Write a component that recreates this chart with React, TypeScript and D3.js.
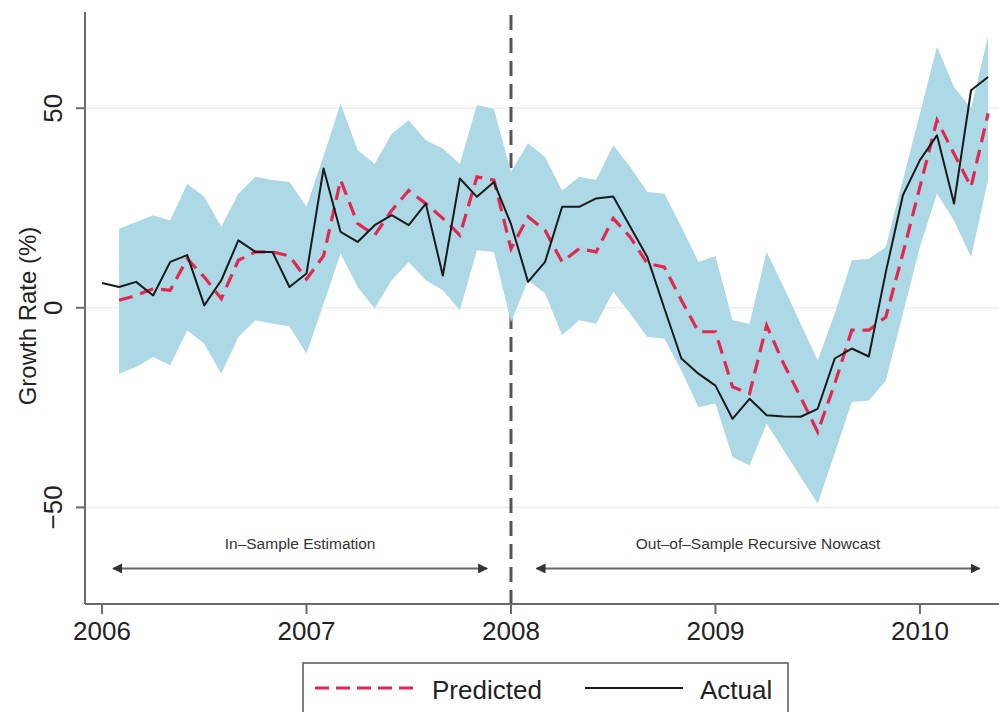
import React from "react";
import * as d3 from "d3";

// Monthly observations; index 0 = Jan 2006
const yearTicks = [2006, 2007, 2008, 2009, 2010];
const yTicks = [-50, 0, 50];
const yTickLabels = ["\u221250", "0", "50"];

// Actual growth rate, Jan 2006 .. May 2010
const actual = [
  6.2, 5.2, 6.5, 3.1, 11.5, 13.2, 0.6, 6.9, 16.9, 14, 14, 5.2,
  8.6, 34.9, 19, 16.5, 20.7, 23.2, 20.7, 26.1, 8.1, 32.4, 27.8, 31.5,
  21, 6.5, 11.5, 25.3, 25.3, 27.4, 27.9, 20.3, 12.7, -0.1, -12.7, -16.5,
  -19.5, -27.8, -22.8, -26.9, -27.2, -27.3, -25.3, -12.7, -10.2, -12.2, 9, 28.2,
  37, 43.2, 26.1, 54.5, 57.8,
];

// Predicted, Feb 2006 .. May 2010
const predicted = [
  1.9, 3.1, 4.8, 4.4, 12.3, 7.7, 2.3, 11.9, 14, 14, 13,
  7.2, 13, 32, 21.1, 18.2, 24.4, 29.4, 26.1, 22.4, 18.2, 32.8, 32,
  14.8, 22.8, 19.4, 11.5, 14.8, 14, 22.4, 17.7, 11.1, 10.2, 1.9, -6,
  -6, -19.8, -21.5, -4.4, -14, -22.4, -31.1, -19, -5.6, -5.6, -2.3, 13.6,
  30.3, 47, 38.6, 30.3, 48.7,
];

// Confidence band, Feb 2006 .. May 2010
const upper = [
  19.8, 21.5, 23.2, 21.9, 31.1, 27.8, 20.3, 28.6, 32.8, 32, 31.5,
  25.3, 38, 51.2, 39.5, 36.1, 43.6, 47, 42, 39.9, 36.1, 50.8, 49.8,
  34, 41.2, 37.8, 29.4, 32.8, 32, 40.7, 35.3, 29, 28.6, 20.3, 11.5,
  13, -3.1, -4, 14, 5.2, -4, -13.2, -1.5, 11.9, 12.3, 15.2, 32,
  48.7, 65.4, 55.3, 50, 68,
];
const lower = [
  -16.5, -14.8, -12.3, -14.4, -5.6, -9, -16.5, -7.3, -3.1, -4, -4.6,
  -11.5, 1, 13.6, 5.2, -0.2, 6.9, 11.5, 6.9, 4.4, -0.6, 14.4, 14,
  -3.6, 6.9, 3.6, -6.9, -3.1, -4, 4, -1.5, -7.3, -7.7, -15.7, -24.9,
  -24, -37.4, -39.5, -29, -35.7, -42.4, -49, -36.5, -23.6, -23.2, -18.2, -1.5,
  15.2, 28.6, 21.9, 12.7, 32,
];

const legendLabels = ["Predicted", "Actual"];
const annotationLabels = ["In\u2013Sample Estimation", "Out\u2013of\u2013Sample Recursive Nowcast"];
// annotation spans in month index
const annotationSpans = [
  [0.65, 22.6],
  [25.5, 51.5],
];
const breakMonth = 24; // Jan 2008

const W = 999;
const H = 712;
const FONT = "'Liberation Sans', Arial, Helvetica, sans-serif";

export default function App() {
  const x = d3.scaleLinear().domain([-1, 52.64]).range([85, 999]);
  const y = d3.scaleLinear().domain([-74.2, 74.1]).range([604, 12]);

  const actualPts = actual.map((v, i) => [i, v] as [number, number]);
  const predPts = predicted.map((v, i) => [i + 1, v] as [number, number]);
  const bandPts = upper.map((u, i) => ({ i: i + 1, hi: u, lo: lower[i] }));

  const line = d3
    .line<[number, number]>()
    .x((d) => x(d[0]))
    .y((d) => y(d[1]));
  const area = d3
    .area<{ i: number; hi: number; lo: number }>()
    .x((d) => x(d.i))
    .y0((d) => y(d.lo))
    .y1((d) => y(d.hi));

  const red = "#e3284f";
  const axisColor = "#6b6b6b";

  return (
    <svg
      width={W}
      height={H}
      style={{ position: "absolute", left: 0, top: 0, background: "#fff" }}
      fontFamily={FONT}
    >
      <defs>
        <marker id="ah" viewBox="0 0 10 10" refX="9" refY="5" markerWidth="5" markerHeight="5" orient="auto-start-reverse">
          <path d="M0,0 L10,5 L0,10 z" fill="#333" />
        </marker>
      </defs>
      <rect x={0} y={0} width={W} height={H} fill="#fff" />
      {/* gridlines */}
      {yTicks.map((t) => (
        <line key={t} x1={x(-1)} x2={W} y1={y(t)} y2={y(t)} stroke="#ececec" strokeWidth={1.5} />
      ))}
      {/* vertical break line */}
      <line
        x1={x(breakMonth)}
        x2={x(breakMonth)}
        y1={y(74.1) + 3}
        y2={y(-74.2)}
        stroke="#555"
        strokeWidth={3}
        strokeDasharray="15,8"
      />
      {/* band */}
      <path d={area(bandPts) || ""} fill="#add8e6" />
      {/* lines */}
      <path d={line(predPts) || ""} fill="none" stroke={red} strokeWidth={3.2} strokeDasharray="14,8" />
      <path d={line(actualPts) || ""} fill="none" stroke="#1a1a1a" strokeWidth={2} strokeLinejoin="round" />

      {/* y axis */}
      <line x1={x(-1)} x2={x(-1)} y1={y(74.1)} y2={y(-74.2)} stroke={axisColor} strokeWidth={2} />
      {yTicks.map((t, k) => (
        <g key={t}>
          <line x1={x(-1) - 9} x2={x(-1)} y1={y(t)} y2={y(t)} stroke={axisColor} strokeWidth={2} />
          <text
            x={62}
            y={y(t)}
            transform={`rotate(-90, 62, ${y(t)})`}
            textAnchor="middle"
            fontSize={26}
            fill="#222"
          >
            {yTickLabels[k]}
          </text>
        </g>
      ))}
      <text
        x={36}
        y={316}
        transform="rotate(-90, 36, 316)"
        textAnchor="middle"
        fontSize={24}
        fill="#222"
      >
        Growth Rate (%)
      </text>

      {/* x axis */}
      <line x1={x(-1)} x2={W} y1={y(-74.2)} y2={y(-74.2)} stroke={axisColor} strokeWidth={2} />
      {yearTicks.map((yr) => {
        const m = (yr - 2006) * 12;
        return (
          <g key={yr}>
            <line x1={x(m)} x2={x(m)} y1={604} y2={614} stroke={axisColor} strokeWidth={2} />
            <text x={x(m)} y={640} textAnchor="middle" fontSize={26} fill="#222">
              {yr}
            </text>
          </g>
        );
      })}

      {/* annotations */}
      {annotationSpans.map((s, k) => (
        <g key={k}>
          <line
            x1={x(s[0])}
            x2={x(s[1])}
            y1={y(-65.3)}
            y2={y(-65.3)}
            stroke="#666"
            strokeWidth={2}
            markerStart="url(#ah)"
            markerEnd="url(#ah)"
          />
          <text
            x={(x(s[0]) + x(s[1])) / 2}
            y={y(-60.5)}
            textAnchor="middle"
            fontSize={15.5}
            fill="#333"
          >
            {annotationLabels[k]}
          </text>
        </g>
      ))}

      {/* legend */}
      <rect x={303} y={663} width={485} height={70} fill="#fff" stroke="#555" strokeWidth={1.5} />
      <line x1={315} x2={415} y1={688} y2={688} stroke={red} strokeWidth={3.2} strokeDasharray="14,7" />
      <text x={432} y={699} fontSize={26} fill="#222">
        {legendLabels[0]}
      </text>
      <line x1={585} x2={683} y1={688} y2={688} stroke="#1a1a1a" strokeWidth={2} />
      <text x={700} y={699} fontSize={26} fill="#222">
        {legendLabels[1]}
      </text>
    </svg>
  );
}
